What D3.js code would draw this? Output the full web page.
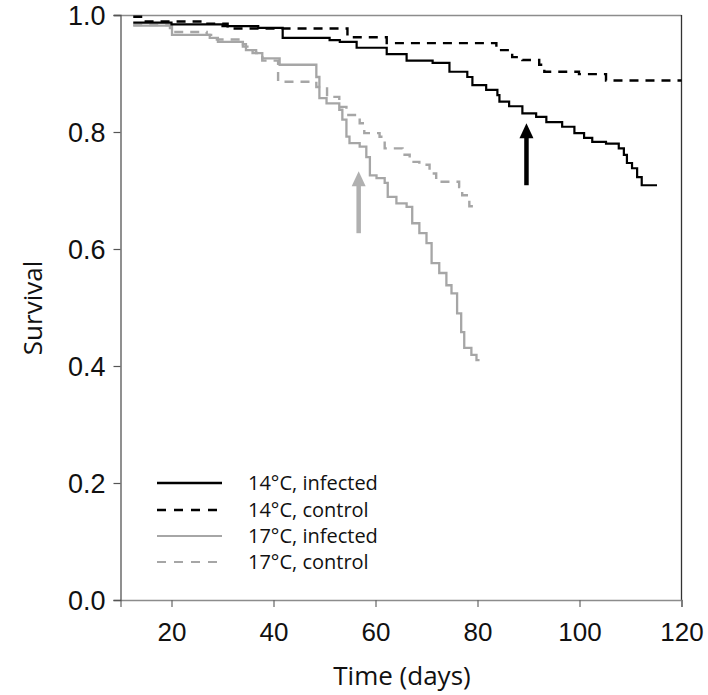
<!DOCTYPE html>
<html>
<head>
<meta charset="utf-8">
<script src="https://cdn.jsdelivr.net/npm/d3@7"></script>
<style>
  html, body { margin: 0; padding: 0; background: #fff; }
  svg { display: block; }
</style>
</head>
<body>
<svg id="chart" width="708" height="695"></svg>
<script>
// ---------- data ----------
const seriesNames = ["14°C, infected", "14°C, control", "17°C, infected", "17°C, control"];

const days14inf = [12.5, 20, 30, 37, 41.8, 51.0, 53.0, 56.3, 62.2, 66.1, 71.2, 74.5, 78.0, 79.0, 81.7, 83.9, 84.3, 86.2, 88.8, 91.5, 93.5, 96.6, 99.0, 100.9, 102.5, 105.2, 107.7, 108.7, 109.3, 110.3, 111.3, 112.2, 115.2];
const surv14inf = [0.987, 0.984, 0.981, 0.978, 0.961, 0.957, 0.954, 0.944, 0.933, 0.922, 0.918, 0.903, 0.894, 0.880, 0.872, 0.863, 0.852, 0.844, 0.832, 0.826, 0.817, 0.809, 0.798, 0.790, 0.783, 0.780, 0.772, 0.761, 0.747, 0.738, 0.723, 0.709, 0.709];

const days14ctl = [12.5, 14.5, 26, 31, 54.5, 62.2, 83.7, 86.8, 88.8, 92.1, 93.1, 99.9, 105.2, 120];
const surv14ctl = [0.997, 0.989, 0.985, 0.977, 0.962, 0.952, 0.940, 0.928, 0.923, 0.915, 0.903, 0.899, 0.888, 0.888];

const days17inf = [12.5, 20.1, 27.5, 29.1, 34.0, 34.6, 36.6, 37.8, 41.2, 48.4, 49.0, 50.4, 52.9, 53.5, 54.3, 54.9, 56.9, 58.2, 58.9, 60.2, 61.8, 62.4, 64.1, 66.1, 67.2, 68.6, 70.0, 71.0, 72.5, 73.9, 74.9, 76.0, 76.8, 77.4, 78.8, 79.8, 80.4];
const surv17inf = [0.982, 0.966, 0.961, 0.954, 0.950, 0.940, 0.935, 0.926, 0.915, 0.894, 0.858, 0.849, 0.838, 0.821, 0.792, 0.781, 0.775, 0.757, 0.726, 0.721, 0.713, 0.689, 0.678, 0.672, 0.644, 0.627, 0.610, 0.576, 0.559, 0.538, 0.524, 0.490, 0.458, 0.431, 0.419, 0.410, 0.410];

const days17ctl = [12.5, 19.7, 26.9, 28.9, 34.0, 35.9, 37.8, 40.9, 48.4, 50.5, 52.9, 54.3, 56.9, 57.8, 60.8, 61.8, 65.3, 66.7, 68.6, 70.6, 71.9, 76.4, 77.0, 78.4, 79.8];
const surv17ctl = [0.983, 0.971, 0.966, 0.958, 0.946, 0.935, 0.922, 0.886, 0.877, 0.860, 0.843, 0.829, 0.815, 0.798, 0.792, 0.772, 0.761, 0.749, 0.744, 0.729, 0.715, 0.706, 0.692, 0.673, 0.673];

const xTicksMajor = [20, 40, 60, 80, 100, 120];
const xTicksMinor = [10, 30, 50, 70, 90, 110];
const yTicksMajor = [0.0, 0.2, 0.4, 0.6, 0.8, 1.0];
const yTicksMinor = [0.1, 0.3, 0.5, 0.7, 0.9];

// arrows: [day, from survival, to survival]
const arrowDays = [89.6, 56.7];
const arrowFrom = [0.709, 0.627];
const arrowTo = [0.815, 0.733];

// ---------- styles ----------
const seriesColor = ["#000000", "#000000", "#a6a6a6", "#a6a6a6"];
const seriesDash = [null, "9,7", null, "9,7"];
const seriesWidth = [2.2, 2.4, 2.3, 2.4];
const arrowColor = ["#000000", "#b0b0b0"];

const svg = d3.select("#chart");
const x = d3.scaleLinear().domain([10, 120]).range([120.5, 681.5]);
const y = d3.scaleLinear().domain([0, 1]).range([600, 15]);

// frame: top and right
svg.append("line").attr("x1", 114).attr("x2", 681.5).attr("y1", 15.5).attr("y2", 15.5)
  .attr("stroke", "#8c8c8c").attr("stroke-width", 1.6);
svg.append("line").attr("x1", 681.5).attr("x2", 681.5).attr("y1", 15).attr("y2", 600)
  .attr("stroke", "#333").attr("stroke-width", 1.3);

// axes
const tickFont = "'Liberation Sans', Arial, sans-serif";
const gx = svg.append("g").attr("transform", "translate(0,600)");
gx.call(d3.axisBottom(x).tickValues(xTicksMinor).tickSize(4).tickFormat(""));
gx.call(d3.axisBottom(x).tickValues(xTicksMajor).tickSize(7).tickFormat(d3.format("d")));
gx.selectAll("path.domain").attr("stroke", "#8c8c8c").attr("stroke-width", 1.6);
gx.selectAll(".tick line").attr("stroke", "#666").attr("stroke-width", 1.2);
gx.selectAll(".tick text").attr("font-family", tickFont).attr("font-size", 26).attr("fill", "#111")
  .attr("y", 41).attr("dy", 0);

const gy = svg.append("g").attr("transform", "translate(120.5,0)");
gy.call(d3.axisLeft(y).tickValues(yTicksMinor).tickSize(4).tickFormat(""));
gy.call(d3.axisLeft(y).tickValues(yTicksMajor).tickSize(7).tickFormat(d3.format(".1f")));
gy.selectAll("path.domain").attr("stroke", "#555").attr("stroke-width", 1.3);
gy.selectAll(".tick line").attr("stroke", "#555").attr("stroke-width", 1.2);
gy.selectAll(".tick text").attr("font-family", tickFont).attr("font-size", 27).attr("fill", "#111")
  .attr("x", -15).attr("dy", "0.36em");

// axis titles
const titleFont = "'Open Sans', 'Noto Sans', sans-serif";
svg.append("text").attr("x", 402).attr("y", 685).attr("text-anchor", "middle")
  .attr("font-family", titleFont).attr("font-size", 26).attr("fill", "#111").text("Time (days)");
svg.append("text").attr("transform", "translate(42,308) rotate(-90)").attr("text-anchor", "middle")
  .attr("font-family", titleFont).attr("font-size", 26).attr("fill", "#111").text("Survival");

// curves
const allDays = [days14inf, days14ctl, days17inf, days17ctl];
const allSurv = [surv14inf, surv14ctl, surv17inf, surv17ctl];
const line = d3.line().x(d => x(d[0])).y(d => y(d[1])).curve(d3.curveStepAfter);
const drawOrder = [3, 2, 1, 0];
drawOrder.forEach(i => {
  const pts = allDays[i].map((d, k) => [d, allSurv[i][k]]);
  svg.append("path").attr("d", line(pts)).attr("fill", "none")
    .attr("stroke", seriesColor[i]).attr("stroke-width", seriesWidth[i])
    .attr("stroke-dasharray", seriesDash[i]);
});

// arrows
arrowDays.forEach((d, i) => {
  const ax = x(d), y0 = y(arrowFrom[i]), y1 = y(arrowTo[i]);
  svg.append("line").attr("x1", ax).attr("x2", ax).attr("y1", y0).attr("y2", y1 + 12)
    .attr("stroke", arrowColor[i]).attr("stroke-width", 4.5);
  svg.append("path").attr("d", `M${ax},${y1} L${ax - 7},${y1 + 15} L${ax + 7},${y1 + 15} Z`)
    .attr("fill", arrowColor[i]);
});

// legend
const legendY = [483, 510, 536, 562];
const lg = svg.append("g");
seriesNames.forEach((name, i) => {
  lg.append("line").attr("x1", 157).attr("x2", 222).attr("y1", legendY[i]).attr("y2", legendY[i])
    .attr("stroke", seriesColor[i]).attr("stroke-width", i < 2 ? 2.4 : 2.2)
    .attr("stroke-dasharray", seriesDash[i] ? "9,8" : null);
  lg.append("text").attr("x", 248).attr("y", legendY[i]).attr("dy", "0.35em")
    .attr("font-family", titleFont).attr("font-size", 20).attr("fill", "#111").text(name);
});
</script>
</body>
</html>
